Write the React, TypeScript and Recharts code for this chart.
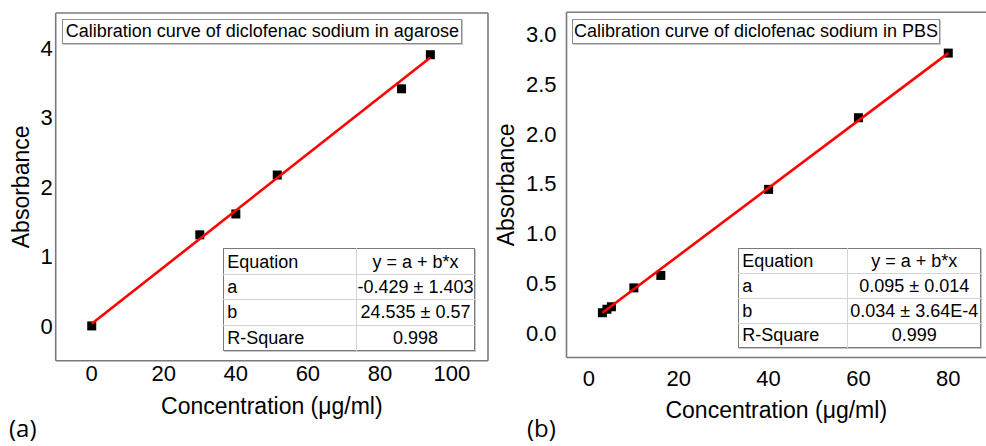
// Kalibracja diklofenaku — dwa panele (agaroza / PBS), punkty + prosta dopasowania.
// Ramka z ticków do środka (osie mirror), tytuł i tabelka z parametrami jako nakładki HTML.

import { ScatterChart, Scatter, XAxis, YAxis, Label } from "recharts";

// panel (a): agaroza
const AGAROSE_CONC = [0, 30, 40, 51.5, 86, 94];
const AGAROSE_ABS = [0, 1.31, 1.61, 2.17, 3.41, 3.9];
const AGAROSE_FIT_CONC = [0, 94];
const AGAROSE_FIT_ABS = [0.03, 3.86];
const AGAROSE_X_TICKS = [0, 20, 40, 60, 80, 100];
const AGAROSE_X_MINOR = [0, 10, 20, 30, 40, 50, 60, 70, 80, 90, 100, 110];
const AGAROSE_Y_TICKS = [0, 1, 2, 3, 4];
const AGAROSE_Y_MINOR = [-0.5, 0, 0.5, 1, 1.5, 2, 2.5, 3, 3.5, 4, 4.5];
const AGAROSE_TABLE = [
  ["Equation", "y = a + b*x"],
  ["a", "-0.429 ± 1.403"],
  ["b", "24.535 ± 0.57"],
  ["R-Square", "0.998"],
];

// panel (b): PBS
const PBS_CONC = [3, 4, 5, 10, 16, 40, 60, 80];
const PBS_ABS = [0.2, 0.235, 0.26, 0.45, 0.575, 1.44, 2.16, 2.81];
const PBS_FIT_CONC = [3, 80];
const PBS_FIT_ABS = [0.2, 2.81];
const PBS_X_TICKS = [0, 20, 40, 60, 80];
const PBS_X_MINOR = [0, 10, 20, 30, 40, 50, 60, 70, 80];
const PBS_Y_TICKS = [0, 0.5, 1, 1.5, 2, 2.5, 3];
const PBS_Y_MINOR = [0, 0.25, 0.5, 0.75, 1, 1.25, 1.5, 1.75, 2, 2.25, 2.5, 2.75, 3];
const PBS_TABLE = [
  ["Equation", "y = a + b*x"],
  ["a", "0.095 ± 0.014"],
  ["b", "0.034 ± 3.64E-4"],
  ["R-Square", "0.999"],
];

const FONT = '"Liberation Sans", Arial, sans-serif';
const FRAME = "#7a7a7a";

const toPoints = (xs: number[], ys: number[]) =>
  xs.map((x, i) => ({ x, y: ys[i] }));

const Square = (p: any) => (
  <rect x={p.cx - 4.5} y={p.cy - 4.5} width={9} height={9} fill="#000" />
);
const NoDot = () => <g />;

// własny tick — pewny rozmiar fontu
const makeTick = (fmt: (v: number) => string, side: "x" | "y") => (t: any) => (
  <text
    x={t.x}
    y={t.y}
    dy={side === "x" ? "0.72em" : "0.36em"}
    textAnchor={side === "x" ? "middle" : "end"}
    fontSize={22}
    fontFamily={FONT}
    fill="#000"
  >
    {fmt(t.payload.value)}
  </text>
);

interface PanelProps {
  left: number;
  conc: number[];
  abs: number[];
  fitConc: number[];
  fitAbs: number[];
  xDomain: [number, number];
  yDomain: [number, number];
  xTicks: number[];
  xMinor: number[];
  yTicks: number[];
  yMinor: number[];
  yFmt: (v: number) => string;
  margin: { top: number; right: number; bottom: number; left: number };
  yAxisWidth: number;
  xAxisHeight: number;
  xGap: [number, number];
  yGap: [number, number];
  yTitleX: number;
  rightFrame: boolean;
}

function Panel(p: PanelProps) {
  const pts = toPoints(p.conc, p.abs);
  const fit = toPoints(p.fitConc, p.fitAbs);
  const minor = {
    type: "number" as const,
    allowDataOverflow: true,
    mirror: true,
    tick: false as const,
    tickSize: 3,
    tickLine: { stroke: FRAME, strokeWidth: 1.2 },
    axisLine: { stroke: FRAME, strokeWidth: 1.6 },
  };
  return (
    <div style={{ position: "absolute", left: p.left, top: 0 }}>
      <ScatterChart width={493} height={446} margin={p.margin}>
        <XAxis
          type="number"
          dataKey="x"
          domain={p.xDomain}
          allowDataOverflow
          ticks={p.xTicks}
          tickLine={false}
          axisLine={false}
          tickSize={p.xGap[0]}
          tickMargin={p.xGap[1]}
          tick={makeTick((v) => String(v), "x")}
          height={p.xAxisHeight}
        >
          <Label
            value="Concentration (μg/ml)"
            position="insideBottom"
            offset={0}
            style={{ fontSize: 23, fill: "#000", fontFamily: FONT }}
          />
        </XAxis>
        <YAxis
          type="number"
          dataKey="y"
          domain={p.yDomain}
          allowDataOverflow
          ticks={p.yTicks}
          tickLine={false}
          axisLine={false}
          tickSize={p.yGap[0]}
          tickMargin={p.yGap[1]}
          tick={makeTick(p.yFmt, "y")}
          width={p.yAxisWidth}
        >
          <Label
            content={({ viewBox }: any) => {
              const cy = viewBox.y + viewBox.height / 2;
              return (
                <text
                  x={p.yTitleX}
                  y={cy}
                  dy="0.36em"
                  textAnchor="middle"
                  transform={`rotate(-90 ${p.yTitleX} ${cy})`}
                  style={{ fontSize: 23, fill: "#000", fontFamily: FONT }}
                >
                  Absorbance
                </text>
              );
            }}
          />
        </YAxis>
        <XAxis {...minor} xAxisId="bm" orientation="bottom" domain={p.xDomain} ticks={p.xMinor} />
        <XAxis {...minor} xAxisId="tm" orientation="top" domain={p.xDomain} ticks={p.xMinor} />
        <YAxis {...minor} yAxisId="lm" orientation="left" domain={p.yDomain} ticks={p.yMinor} />
        {p.rightFrame && (
          <YAxis {...minor} yAxisId="rm" orientation="right" domain={p.yDomain} ticks={p.yMinor} />
        )}
        <Scatter data={pts} shape={Square} isAnimationActive={false} />
        <Scatter
          data={fit}
          shape={NoDot}
          line={{ stroke: "#ff0000", strokeWidth: 2.6 }}
          isAnimationActive={false}
        />
      </ScatterChart>
    </div>
  );
}

function TitleBox(props: { left: number; top: number; width: number; height: number; text: string }) {
  return (
    <div
      style={{
        position: "absolute",
        left: props.left,
        top: props.top,
        width: props.width,
        height: props.height,
        boxSizing: "border-box",
        border: "1px solid #8c8c8c",
        boxShadow: "1px 1px 0 #c8c8c8",
        background: "#fff",
        fontFamily: FONT,
        fontSize: 18,
        lineHeight: `${props.height - 2}px`,
        textAlign: "center",
        whiteSpace: "nowrap",
        color: "#000",
      }}
    >
      {props.text}
    </div>
  );
}

function FitTable(props: {
  left: number;
  top: number;
  width: number;
  height: number;
  col1: number;
  rows: string[][];
}) {
  const rowH = props.height / props.rows.length;
  return (
    <table
      style={{
        position: "absolute",
        left: props.left,
        top: props.top,
        width: props.width,
        height: props.height,
        borderCollapse: "collapse",
        border: `1px solid ${FRAME}`,
        boxShadow: "1px 1px 0 #c8c8c8",
        background: "#fff",
        fontFamily: FONT,
        fontSize: 18,
        color: "#000",
        tableLayout: "fixed",
      }}
    >
      <tbody>
        {props.rows.map((r, i) => (
          <tr key={r[0]} style={{ height: rowH }}>
            <td
              style={{
                width: props.col1,
                padding: "0 3px",
                borderTop: i ? "1px solid #d4d4d4" : undefined,
                borderRight: "1px solid #d4d4d4",
                whiteSpace: "nowrap",
                lineHeight: 1,
              }}
            >
              {r[0]}
            </td>
            <td
              style={{
                padding: 0,
                textAlign: "center",
                borderTop: i ? "1px solid #d4d4d4" : undefined,
                whiteSpace: "nowrap",
                lineHeight: 1,
              }}
            >
              {r[1]}
            </td>
          </tr>
        ))}
      </tbody>
    </table>
  );
}

export default function App() {
  return (
    <div
      style={{
        position: "fixed",
        left: 0,
        top: 0,
        width: 986,
        height: 446,
        background: "#fff",
        overflow: "hidden",
      }}
    >
      <Panel
        left={0}
        conc={AGAROSE_CONC}
        abs={AGAROSE_ABS}
        fitConc={AGAROSE_FIT_CONC}
        fitAbs={AGAROSE_FIT_ABS}
        xDomain={[-10, 110]}
        yDomain={[-0.5, 4.5]}
        xTicks={AGAROSE_X_TICKS}
        xMinor={AGAROSE_X_MINOR}
        yTicks={AGAROSE_Y_TICKS}
        yMinor={AGAROSE_Y_MINOR}
        yFmt={(v) => String(v)}
        margin={{ top: 13, right: 5, bottom: 32.3, left: 0 }}
        yAxisWidth={55.7}
        xAxisHeight={53}
        xGap={[2, 2]}
        yGap={[1, 2]}
        yTitleX={21}
        rightFrame
      />
      <Panel
        left={493}
        conc={PBS_CONC}
        abs={PBS_ABS}
        fitConc={PBS_FIT_CONC}
        fitAbs={PBS_FIT_ABS}
        xDomain={[-5, 88.4]}
        yDomain={[-0.25, 3.22]}
        xTicks={PBS_X_TICKS}
        xMinor={PBS_X_MINOR}
        yTicks={PBS_Y_TICKS}
        yMinor={PBS_Y_MINOR}
        yFmt={(v) => v.toFixed(1)}
        margin={{ top: 12.3, right: 0, bottom: 28.5, left: 0 }}
        yAxisWidth={73.5}
        xAxisHeight={60}
        xGap={[5, 8]}
        yGap={[5, 5]}
        yTitleX={12.5}
        rightFrame={false}
      />
      <TitleBox left={62.3} top={19} width={400} height={25} text="Calibration curve of diclofenac sodium in agarose" />
      <TitleBox left={572.3} top={19} width={367.4} height={24.5} text="Calibration curve of diclofenac sodium in PBS" />
      <FitTable left={223.3} top={248.3} width={251.7} height={101.7} col1={125.7} rows={AGAROSE_TABLE} />
      <FitTable left={738.3} top={248.3} width={243} height={99} col1={102} rows={PBS_TABLE} />
      <svg
        width={986}
        height={446}
        style={{ position: "absolute", left: 0, top: 0, pointerEvents: "none" }}
      >
        <text x={9} y={437} style={{ fontSize: 24, fontFamily: '"Open Sans", sans-serif', fill: "#000" }}>
          (a)
        </text>
        <text x={527} y={437} style={{ fontSize: 24, fontFamily: '"Open Sans", sans-serif', fill: "#000" }}>
          (b)
        </text>
      </svg>
    </div>
  );
}
